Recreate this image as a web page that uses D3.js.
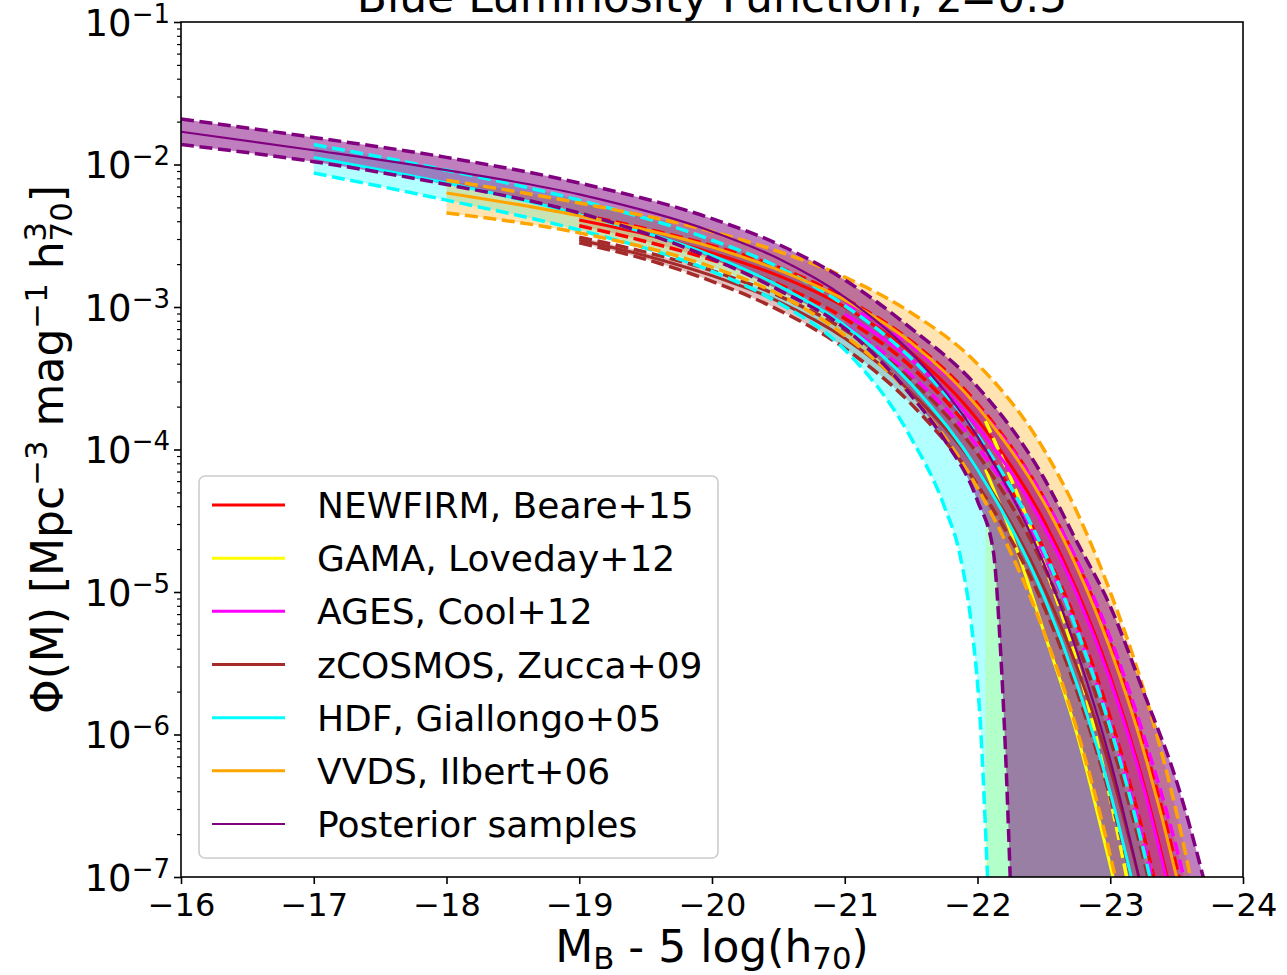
<!DOCTYPE html>
<html>
<head>
<meta charset="utf-8">
<title>Blue Luminosity Function, z=0.5</title>
<script src="https://cdn.jsdelivr.net/npm/d3@7"></script>
<style>
  body { margin: 0; background: #fff; }
  svg { display: block; font-family: "DejaVu Sans", sans-serif; }
</style>
</head>
<body>
<div id="chart"></div>
<script>
// each curve: [absolute magnitude M_B, log10 of phi]
var posteriorMid = [[-16,-1.77],[-17,-1.90],[-18,-2.04],[-19,-2.21],[-20,-2.47],[-20.5,-2.66],[-21,-2.93],[-21.5,-3.32],[-22,-3.91],[-22.5,-4.80],[-22.75,-5.42],[-23,-6.18],[-23.25,-7.14]];
var posteriorHi  = [[-16,-1.68],[-17,-1.81],[-18,-1.95],[-19,-2.13],[-20,-2.38],[-20.5,-2.56],[-21,-2.81],[-21.5,-3.15],[-22,-3.56],[-22.5,-4.20],[-22.75,-4.65],[-23,-5.10],[-23.25,-5.70],[-23.5,-6.33],[-23.7,-7.0],[-23.85,-7.6]];
var posteriorLo  = [[-16,-1.86],[-17,-1.98],[-18,-2.14],[-19,-2.34],[-20,-2.66],[-20.5,-2.88],[-21,-3.15],[-21.5,-3.62],[-21.75,-3.93],[-22,-4.36],[-22.12,-4.72],[-22.17,-5.35],[-22.21,-6.1],[-22.25,-7.1]];

var newfirmMid = [[-19,-2.39],[-19.5,-2.49],[-20,-2.62],[-20.5,-2.78],[-21,-3.00],[-21.5,-3.32],[-22,-3.79],[-22.5,-4.50],[-22.75,-4.99],[-23,-5.59],[-23.25,-6.34],[-23.5,-7.28]];
var newfirmHi  = [[-19,-2.35],[-19.5,-2.45],[-20,-2.57],[-20.5,-2.72],[-21,-2.94],[-21.5,-3.24],[-22,-3.68],[-22.5,-4.34],[-22.75,-4.79],[-23,-5.36],[-23.25,-6.06],[-23.5,-6.93],[-23.75,-8.03]];
var newfirmLo  = [[-19,-2.43],[-19.5,-2.54],[-20,-2.67],[-20.5,-2.84],[-21,-3.08],[-21.5,-3.42],[-22,-3.93],[-22.5,-4.70],[-22.75,-5.22],[-23,-5.88],[-23.25,-6.70],[-23.5,-7.72]];

var gamaMid = [[-22.06,-4.14],[-22.25,-4.58],[-22.5,-5.28],[-22.75,-6.0],[-23,-6.92],[-23.2,-7.7]];
var gamaHi  = [[-22.06,-3.80],[-22.25,-4.2],[-22.5,-4.8],[-22.75,-5.5],[-23,-6.45],[-23.25,-7.6]];
var gamaLo  = [[-22.06,-8.5],[-23.5,-8.5]];

var agesMid = [[-21,-3.05],[-21.5,-3.37],[-22,-3.84],[-22.5,-4.54],[-22.75,-5.02],[-23,-5.62],[-23.25,-6.37],[-23.5,-7.32]];
var agesHi  = [[-21,-2.98],[-21.5,-3.27],[-22,-3.70],[-22.5,-4.34],[-22.75,-4.78],[-23,-5.32],[-23.25,-6.0],[-23.5,-6.80],[-23.75,-7.8]];
var agesLo  = [[-21,-3.13],[-21.5,-3.48],[-22,-3.98],[-22.5,-4.74],[-22.75,-5.27],[-23,-5.93],[-23.25,-6.75],[-23.5,-7.8]];

var zcosmosMid = [[-19,-2.53],[-19.5,-2.64],[-20,-2.78],[-20.5,-2.96],[-21,-3.22],[-21.5,-3.60],[-22,-4.14],[-22.5,-4.97],[-22.75,-5.53],[-23,-6.24],[-23.25,-7.13]];
var zcosmosHi  = [[-19,-2.51],[-19.5,-2.615],[-20,-2.745],[-20.5,-2.92],[-21,-3.16],[-21.5,-3.51],[-22,-4.03],[-22.5,-4.82],[-22.75,-5.36],[-23,-6.03],[-23.25,-6.87],[-23.5,-7.9]];
var zcosmosLo  = [[-19,-2.55],[-19.5,-2.665],[-20,-2.82],[-20.5,-3.02],[-21,-3.29],[-21.5,-3.68],[-22,-4.25],[-22.5,-5.10],[-22.75,-5.70],[-23,-6.44],[-23.25,-7.35]];

var hdfMid = [[-17,-1.95],[-18,-2.13],[-19,-2.35],[-20,-2.64],[-20.5,-2.85],[-21,-3.13],[-21.5,-3.54],[-22,-4.14],[-22.5,-5.03],[-22.75,-5.65],[-23,-6.41],[-23.25,-7.36]];
var hdfHi  = [[-17,-1.86],[-18,-2.04],[-19,-2.25],[-20,-2.53],[-20.5,-2.72],[-21,-2.99],[-21.5,-3.36],[-22,-3.90],[-22.5,-4.71],[-22.75,-5.27],[-23,-5.95],[-23.25,-6.81],[-23.5,-7.87]];
var hdfLo  = [[-17,-2.06],[-18,-2.25],[-19,-2.46],[-20,-2.75],[-20.5,-2.97],[-21,-3.30],[-21.5,-3.92],[-21.75,-4.40],[-21.87,-4.75],[-21.95,-5.2],[-22.02,-5.9],[-22.08,-7.1]];

var vvdsMid = [[-18,-2.20],[-19,-2.36],[-20,-2.58],[-20.5,-2.74],[-21,-2.95],[-21.5,-3.25],[-22,-3.70],[-22.5,-4.37],[-22.75,-4.83],[-23,-5.40],[-23.25,-6.11],[-23.5,-7.0],[-23.75,-8.11]];
var vvdsHi  = [[-18,-2.11],[-19,-2.27],[-20,-2.47],[-20.5,-2.61],[-21,-2.79],[-21.5,-3.04],[-22,-3.40],[-22.5,-4.00],[-22.75,-4.44],[-23,-5.0],[-23.25,-5.68],[-23.5,-6.55],[-23.75,-7.7]];
var vvdsLo  = [[-18,-2.34],[-19,-2.48],[-20,-2.72],[-20.5,-2.91],[-21,-3.20],[-21.5,-3.62],[-22,-4.27],[-22.5,-5.28],[-22.75,-5.97],[-23,-6.85],[-23.25,-7.94]];

var seriesNames  = ["NEWFIRM, Beare+15", "GAMA, Loveday+12", "AGES, Cool+12", "zCOSMOS, Zucca+09", "HDF, Giallongo+05", "VVDS, Ilbert+06", "Posterior samples"];
var seriesColors = ["#ff0000", "#ffff00", "#ff00ff", "#a52a2a", "#00ffff", "#ffa500", "#800080"];
var xTicks = [-16, -17, -18, -19, -20, -21, -22, -23, -24];
var yTickExponents = [-7, -6, -5, -4, -3, -2, -1];

var curves = [
  [newfirmMid, newfirmHi, newfirmLo],
  [gamaMid, gamaHi, gamaLo],
  [agesMid, agesHi, agesLo],
  [zcosmosMid, zcosmosHi, zcosmosLo],
  [hdfMid, hdfHi, hdfLo],
  [vvdsMid, vvdsHi, vvdsLo],
  [posteriorMid, posteriorHi, posteriorLo]
];

var series = seriesNames.map(function(name, i) {
  var last = i === seriesNames.length - 1;
  return {
    name: name, color: seriesColors[i],
    mid: curves[i][0], hi: curves[i][1], lo: curves[i][2],
    fillAlpha: last ? 0.5 : 0.3,
    midWidth: last ? 2.2 : 3
  };
});

var plotLeft = 181, plotRight = 1243, plotTop = 22, plotBottom = 877;

var svg = d3.select("#chart").append("svg")
    .attr("width", 1287)
    .attr("height", 975);

var x = d3.scaleLinear().domain([-16, -24]).range([plotLeft, plotRight]);
var y = d3.scaleLog().domain([1e-7, 1e-1]).range([plotBottom, plotTop]);

svg.append("defs").append("clipPath").attr("id", "plot-clip")
  .append("rect")
    .attr("x", plotLeft).attr("y", plotTop)
    .attr("width", plotRight - plotLeft).attr("height", plotBottom - plotTop);

var line = d3.line()
    .x(function(d) { return x(d[0]); })
    .y(function(d) { return y(Math.pow(10, d[1])); })
    .curve(d3.curveMonotoneX);

function bandPath(hi, lo) {
  var top = line(hi);
  var bottom = line(lo.slice().reverse());
  return top + "L" + bottom.slice(1) + "Z";
}

var plot = svg.append("g").attr("clip-path", "url(#plot-clip)");

// fills first, lines on top (matplotlib z-order)
plot.selectAll(".band")
    .data(series)
  .enter().append("path")
    .attr("class", "band")
    .attr("d", function(d) { return bandPath(d.hi, d.lo); })
    .attr("fill", function(d) { return d.color; })
    .attr("fill-opacity", function(d) { return d.fillAlpha; })
    .attr("stroke", "none");

series.forEach(function(s) {
  plot.append("path")
      .attr("d", line(s.mid))
      .attr("fill", "none")
      .attr("stroke", s.color)
      .attr("stroke-width", s.midWidth)
      .attr("stroke-linejoin", "round");
  [s.hi, s.lo].forEach(function(c) {
    plot.append("path")
        .attr("d", line(c))
        .attr("fill", "none")
        .attr("stroke", s.color)
        .attr("stroke-width", 3.5)
        .attr("stroke-dasharray", "13,5.6");
  });
});

// frame
svg.append("rect")
    .attr("x", plotLeft).attr("y", plotTop)
    .attr("width", plotRight - plotLeft).attr("height", plotBottom - plotTop)
    .attr("fill", "none").attr("stroke", "#000").attr("stroke-width", 1.6);

// x axis
var xAxis = svg.append("g")
    .attr("transform", "translate(0," + plotBottom + ")")
    .call(d3.axisBottom(x).tickValues(xTicks).tickSize(7).tickPadding(9)
      .tickFormat(function(d) { return "\u2212" + Math.abs(d); }));
xAxis.select(".domain").remove();
xAxis.selectAll(".tick line").attr("stroke-width", 1.6);
xAxis.selectAll(".tick text").attr("font-size", 32).attr("font-family", "DejaVu Sans").attr("fill", "#000");

// y axis, major ticks with 10^n labels
var yMajor = yTickExponents.map(function(e) { return Math.pow(10, e); });
var yMinor = y.ticks().filter(function(v) {
  var l = Math.log10(v);
  return Math.abs(l - Math.round(l)) > 1e-6;
});

var yAxis = svg.append("g")
    .attr("transform", "translate(" + plotLeft + ",0)")
    .call(d3.axisLeft(y).tickValues(yMajor).tickSize(7).tickPadding(4).tickFormat(""));
yAxis.select(".domain").remove();
yAxis.selectAll(".tick line").attr("stroke-width", 1.6);
yAxis.selectAll(".tick text")
    .attr("font-size", 37).attr("font-family", "DejaVu Sans").attr("fill", "#000")
    .attr("dy", "0.36em")
    .each(function(d) {
      var t = d3.select(this);
      t.append("tspan").text("10");
      t.append("tspan").attr("dy", -13).attr("font-size", 26)
        .text("\u2212" + Math.round(-Math.log10(d)));
    });

var yAxisMinor = svg.append("g")
    .attr("transform", "translate(" + plotLeft + ",0)")
    .call(d3.axisLeft(y).tickValues(yMinor).tickSize(4).tickFormat(""));
yAxisMinor.select(".domain").remove();
yAxisMinor.selectAll(".tick line").attr("stroke-width", 1.2);

// title (clipped by the top of the figure, as in the original)
svg.append("text")
    .attr("x", (plotLeft + plotRight) / 2).attr("y", 12)
    .attr("text-anchor", "middle").attr("font-size", 44)
    .text("Blue Luminosity Function, z=0.5");

// x label
var xl = svg.append("text")
    .attr("x", (plotLeft + plotRight) / 2).attr("y", 962)
    .attr("text-anchor", "middle").attr("font-size", 44);
xl.append("tspan").text("M");
xl.append("tspan").attr("font-size", 30.8).attr("dy", 7).text("B");
xl.append("tspan").attr("dy", -7).text(" - 5 log(h");
xl.append("tspan").attr("font-size", 30.8).attr("dy", 7).text("70");
xl.append("tspan").attr("dy", -7).text(")");

// y label
var yl = svg.append("text")
    .attr("transform", "translate(63," + (plotTop + plotBottom) / 2 + ") rotate(-90)")
    .attr("text-anchor", "middle").attr("font-size", 44);
yl.append("tspan").text("\u03a6(M) [Mpc");
yl.append("tspan").attr("font-size", 30.8).attr("dy", -16).text("\u22123");
yl.append("tspan").attr("dy", 16).text(" mag");
yl.append("tspan").attr("font-size", 30.8).attr("dy", -16).text("\u22121");
yl.append("tspan").attr("dy", 16).text(" h");
yl.append("tspan").attr("font-size", 30.8).attr("dy", -17).text("3");
yl.append("tspan").attr("font-size", 30.8).attr("dx", -19.6).attr("dy", 26).text("70");
yl.append("tspan").attr("dy", -9).text("]");

// legend
var legend = svg.append("g");
legend.append("rect")
    .attr("x", 199).attr("y", 476).attr("width", 519).attr("height", 382)
    .attr("rx", 6).attr("ry", 6)
    .attr("fill", "#fff").attr("fill-opacity", 0.8)
    .attr("stroke", "#cccccc").attr("stroke-width", 1.6);

var rows = legend.selectAll(".entry")
    .data(series)
  .enter().append("g")
    .attr("class", "entry")
    .attr("transform", function(d, i) { return "translate(0," + (505 + i * 53.17) + ")"; });

rows.append("line")
    .attr("x1", 212).attr("x2", 285).attr("y1", 0).attr("y2", 0)
    .attr("stroke", function(d) { return d.color; })
    .attr("stroke-width", function(d) { return d.midWidth; });

rows.append("text")
    .attr("x", 317).attr("y", 13)
    .attr("font-size", 36)
    .text(function(d) { return d.name; });
</script>
</body>
</html>
